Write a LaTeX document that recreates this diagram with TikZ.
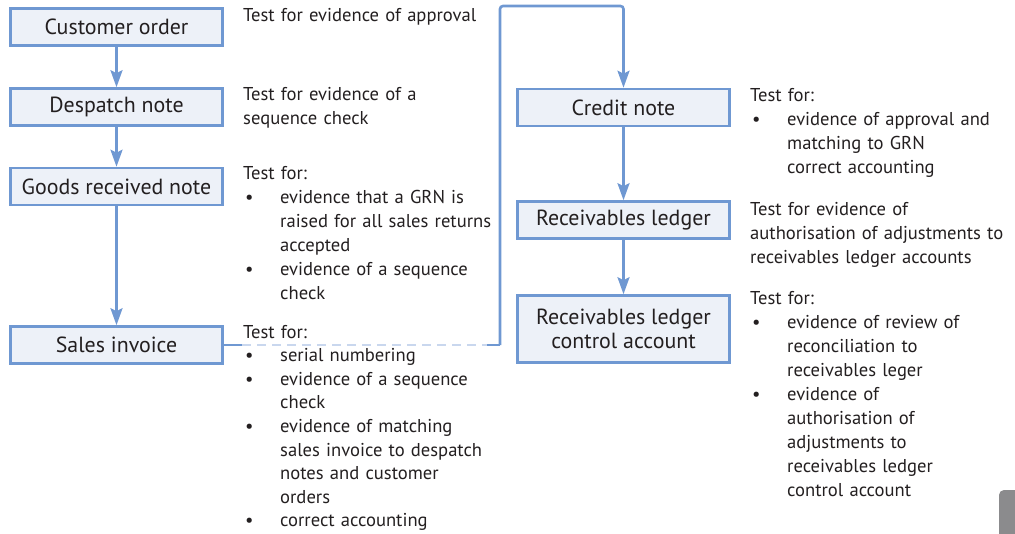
\documentclass[tikz,border=0pt]{standalone}
\usepackage{fontspec}
\setmainfont{PT Sans}
\usetikzlibrary{arrows.meta}
\definecolor{flowblue}{HTML}{6F98D2}
\definecolor{boxfill}{HTML}{EDF1F8}
\definecolor{paleblue}{HTML}{C9D7EE}
\definecolor{inkdark}{HTML}{231F20}
\definecolor{tabgray}{HTML}{8B8B8D}
\newcommand\bl{\hspace*{2pt}\makebox[35pt][l]{\textbullet}}
\newcommand\ct{\hspace*{37pt}}
\begin{document}
\begin{tikzpicture}[x=1pt,y=-1pt,
  docbox/.style={draw=flowblue, line width=2.6pt, fill=boxfill, text=inkdark,
    minimum width=212pt, minimum height=37pt, inner sep=0pt, align=center,
    font=\fontsize{21.9}{23.5}\selectfont},
  flow/.style={draw=flowblue, line width=2.6pt,
    -{Stealth[length=17pt,width=12pt,inset=3pt]}},
  link/.style={draw=flowblue, line width=2.6pt},
  notes/.style={anchor=base west, inner sep=0pt, text=inkdark, text width=270pt,
    align=left, font=\fontsize{18.6}{24}\selectfont}]
\useasboundingbox (0,0) rectangle (1015,533);

% document boxes
\node[docbox] (cust)    at (116.5,27)  {Customer order};
\node[docbox] (desp)    at (116.5,107) {Despatch note};
\node[docbox] (goods)   at (116.5,186.5) {Goods received note};
\node[docbox] (sales)   at (116.5,345) {Sales invoice};
\node[docbox] (credit)  at (623.5,107.5) {Credit note};
\node[docbox] (recv)    at (623.5,220) {Receivables ledger};
\node[docbox, minimum height=67pt] (control) at (623.5,329)
  {Receivables ledger\\control account};

% flow arrows
\draw[flow] (cust) -- (desp);
\draw[flow] (desp) -- (goods);
\draw[flow] (goods) -- (sales);
\draw[flow] (credit) -- (recv);
\draw[flow] (recv) -- (control);

% link from sales invoice round to the credit note
\coordinate (fadeA) at (242,345);
\coordinate (fadeB) at (487,345);
\coordinate (riseB) at (500,345);
\coordinate (topL)  at (500,6);
\coordinate (topR)  at (623.5,6);
\draw[link] (sales.east) -- (fadeA);
\draw[draw=paleblue, line width=2.6pt, dash pattern=on 9pt off 6pt] (fadeA) -- (fadeB);
\draw[link] (fadeB) -- (riseB);
\draw[flow, rounded corners=3pt] (riseB) -- (topL) -- (topR) -- (credit.north);

% test notes
\node[notes] (n1) at (243,21) {Test for evidence of approval};
\node[notes] (n2) at (243,100) {Test for evidence of a\\sequence check};
\node[notes] (n3) at (243,179) {Test for:\\
  \bl evidence that a GRN is\\
  \ct raised for all sales returns\\
  \ct accepted\\
  \bl evidence of a sequence\\
  \ct check};
\node[notes, font=\fontsize{18.6}{23.6}\selectfont] (n4) at (243,338) {Test for:\\
  \bl serial numbering\\
  \bl evidence of a sequence\\
  \ct check\\
  \bl evidence of matching\\
  \ct sales invoice to despatch\\
  \ct notes and customer\\
  \ct orders\\
  \bl correct accounting};
\node[notes] (n5) at (750,101) {Test for:\\
  \bl evidence of approval and\\
  \ct matching to GRN\\
  \ct correct accounting};
\node[notes] (n6) at (750,215) {Test for evidence of\\
  authorisation of adjustments to\\
  receivables ledger accounts};
\node[notes] (n7) at (750,304) {Test for:\\
  \bl evidence of review of\\
  \ct reconciliation to\\
  \ct receivables leger\\
  \bl evidence of\\
  \ct authorisation of\\
  \ct adjustments to\\
  \ct receivables ledger\\
  \ct control account};

% page tab
\begin{scope}
  \clip (0,0) rectangle (1015,533);
  \fill[tabgray, rounded corners=5pt] (999,490) rectangle (1030,545);
\end{scope}
\end{tikzpicture}
\end{document}
